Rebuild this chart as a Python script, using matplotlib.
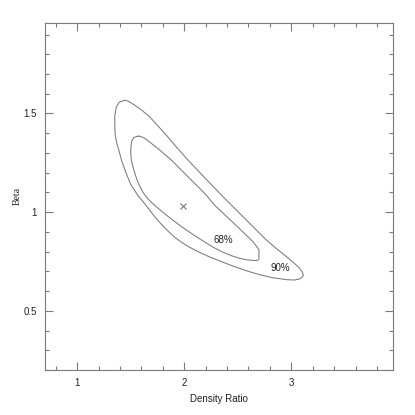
import numpy as np
import matplotlib
matplotlib.use('Agg')
import matplotlib.pyplot as plt
from matplotlib.ticker import MultipleLocator

# confidence contours (density ratio, beta)
outer_x = [1.445, 1.393, 1.365, 1.351, 1.354, 1.368, 1.389, 1.417, 1.454, 1.500,
           1.566, 1.647, 1.700, 1.760, 1.830, 1.900, 1.970, 2.040, 2.125, 2.237,
           2.349, 2.454, 2.582, 2.703, 2.824, 2.952, 3.029, 3.076, 3.103, 3.113,
           3.103, 3.076, 3.011, 2.952, 2.857, 2.765, 2.579, 2.392, 2.206, 2.020,
           1.932, 1.817, 1.678, 1.603, 1.538, 1.482, 1.445]
outer_y = [1.567, 1.557, 1.532, 1.483, 1.400, 1.355, 1.315, 1.259, 1.203, 1.141,
           1.086, 1.032, 0.994, 0.954, 0.914, 0.878, 0.849, 0.825, 0.801, 0.773,
           0.749, 0.727, 0.703, 0.683, 0.668, 0.658, 0.656, 0.661, 0.671, 0.681,
           0.696, 0.717, 0.749, 0.776, 0.817, 0.860, 0.961, 1.062, 1.166, 1.273,
           1.327, 1.400, 1.483, 1.517, 1.542, 1.561, 1.567]

inner_x = [1.568, 1.528, 1.510, 1.500, 1.503, 1.510, 1.522, 1.545, 1.575, 1.615,
           1.670, 1.740, 1.820, 1.900, 1.990, 2.081, 2.170, 2.265, 2.360, 2.454,
           2.520, 2.590, 2.650, 2.685, 2.698, 2.698, 2.684, 2.640, 2.488, 2.330,
           2.290, 2.190, 2.034, 1.880, 1.771, 1.678, 1.631, 1.594, 1.568]
inner_y = [1.385, 1.378, 1.360, 1.315, 1.280, 1.255, 1.230, 1.186, 1.143, 1.100,
           1.062, 1.027, 0.991, 0.957, 0.921, 0.887, 0.856, 0.824, 0.797, 0.777,
           0.766, 0.758, 0.755, 0.756, 0.762, 0.810, 0.820, 0.852, 0.931, 1.012,
           1.032, 1.096, 1.180, 1.264, 1.315, 1.355, 1.374, 1.384, 1.385]

best_fit = (1.985, 1.032)
labels = ['68%', '90%']
label_pos = [(2.369, 0.860), (2.896, 0.717)]

plt.rcParams['font.family'] = ['Liberation Sans', 'DejaVu Sans']
line_c = '#7a7a7a'
text_c = '#222222'
fs = 7

fig = plt.figure(figsize=(4.15, 4.15), dpi=100)
ax = fig.add_axes([0.1084, 0.1084, 0.8386, 0.8369])

ax.plot(outer_x, outer_y, color=line_c, lw=0.75)
ax.plot(inner_x, inner_y, color=line_c, lw=0.75)
ax.plot([best_fit[0]], [best_fit[1]], marker='x', ms=4, mew=0.8, color=line_c, ls='none')
for txt, (lx, ly) in zip(labels, label_pos):
    ax.text(lx, ly, txt, ha='center', va='center', fontsize=fs, color=text_c)

ax.set_xlim(0.7, 3.95)
ax.set_ylim(0.2, 1.96)
ax.xaxis.set_major_locator(MultipleLocator(1))
ax.xaxis.set_minor_locator(MultipleLocator(0.2))
ax.yaxis.set_major_locator(MultipleLocator(0.5))
ax.yaxis.set_minor_locator(MultipleLocator(0.1))
ax.xaxis.set_major_formatter(plt.FuncFormatter(lambda v, p: '%g' % v))
ax.yaxis.set_major_formatter(plt.FuncFormatter(lambda v, p: '%g' % v))

ax.tick_params(which='both', direction='in', top=True, right=True,
               colors=line_c, labelcolor=text_c, labelsize=fs, width=0.8)
ax.tick_params(which='major', length=6, pad=6)
ax.tick_params(which='minor', length=3)
for s in ax.spines.values():
    s.set_color(line_c)
    s.set_linewidth(0.8)

ax.set_xlabel('Density Ratio', fontsize=fs, color=text_c, labelpad=4)
ax.set_ylabel('Beta', fontsize=fs, color=text_c,
              family=['Liberation Serif', 'DejaVu Serif'])
ax.yaxis.set_label_coords(-0.068, 0.5)

fig.savefig('out.png', dpi=100)
